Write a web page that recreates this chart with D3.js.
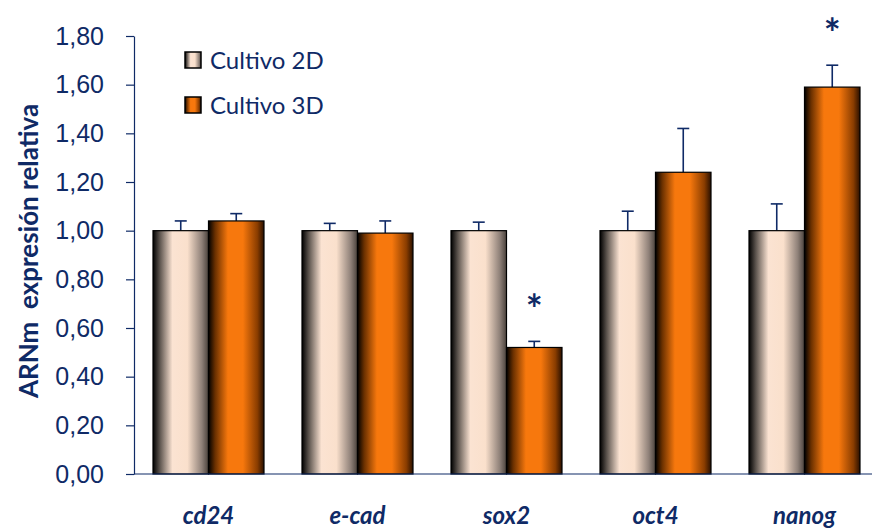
<!DOCTYPE html>
<html>
<head>
<meta charset="utf-8">
<script src="https://cdn.jsdelivr.net/npm/d3@7"></script>
<style>
  body { margin: 0; background: #fff; }
  svg { display: block; font-family: Lato, "Open Sans", sans-serif; }
</style>
</head>
<body>
<svg width="872" height="528"></svg>
<script>
"use strict"

// datos
const genes = ["cd24", "e-cad", "sox2", "oct4", "nanog"]
const series = ["Cultivo 2D", "Cultivo 3D"]
const values2D = [1.00, 1.00, 1.00, 1.00, 1.00]
const values3D = [1.04, 0.99, 0.52, 1.24, 1.59]
const err2D = [0.04, 0.03, 0.035, 0.08, 0.11]
const err3D = [0.03, 0.05, 0.025, 0.18, 0.09]
const signif = ["", "", "*", "", "*"]
const yTicks = [0, 0.2, 0.4, 0.6, 0.8, 1.0, 1.2, 1.4, 1.6, 1.8]

const navy = "#0f2a66"
const svg = d3.select("svg")

const area = { left: 134, right: 879, top: 36, bottom: 474 }

// gradientes tipo cilindro
const defs = svg.append("defs")
function addGrad(id, stops) {
    const g = defs.append("linearGradient").attr("id", id)
        .attr("x1", "0%").attr("x2", "100%").attr("y1", "0%").attr("y2", "0%")
    stops.forEach(s => g.append("stop").attr("offset", s[0]).attr("stop-color", s[1]))
}
addGrad("g2d", [["0%", "#000000"], ["12%", "#5a524c"], ["35%", "#fbe3d2"], ["62%", "#fae0cc"], ["88%", "#8e8078"], ["100%", "#4a423c"]])
addGrad("g3d", [["0%", "#000000"], ["12%", "#6a3000"], ["35%", "#f7780d"], ["62%", "#f7780d"], ["88%", "#8a3d00"], ["100%", "#2a1000"]])
const fills = ["url(#g2d)", "url(#g3d)"]

const scX = d3.scaleBand()
    .domain(genes)
    .range([area.left, area.right])
    .paddingInner(0.255)
    .paddingOuter(0.1275)

const scSub = d3.scaleBand()
    .domain(series)
    .range([0, scX.bandwidth()])

const scY = d3.scaleLinear()
    .domain([0, 1.8])
    .range([area.bottom, area.top])

// eje Y
const axisY = d3.axisLeft(scY)
    .tickValues(yTicks)
    .tickFormat(d => d3.format(".2f")(d).replace(".", ","))
    .tickSize(8)
    .tickSizeOuter(0)
const gY = svg.append("g")
    .attr("transform", `translate(${area.left},0)`)
    .call(axisY)
gY.select(".domain").attr("stroke", navy).attr("stroke-width", 1.2)
gY.selectAll(".tick line").attr("stroke", navy).attr("stroke-width", 1.2)
gY.selectAll(".tick text")
    .attr("x", -30)
    .style("font-size", "25px")
    .style("text-anchor", "end")
    .attr("fill", navy)

// titulo eje Y
svg.append("text")
    .attr("transform", `translate(38, 251) rotate(-90)`)
    .style("text-anchor", "middle")
    .style("font-size", "26px")
    .style("font-weight", "bold")
    .attr("fill", navy)
    .attr("xml:space", "preserve")
    .text("ARNm  expresión relativa")

// barras
const rows = []
genes.forEach((g, i) => {
    rows.push({ gene: g, s: 0, v: values2D[i], e: err2D[i] })
    rows.push({ gene: g, s: 1, v: values3D[i], e: err3D[i] })
})

// barras de error (solo hacia arriba)
const errG = svg.append("g")
rows.forEach(d => {
    const cx = scX(d.gene) + scSub(series[d.s]) + scSub.bandwidth() / 2
    errG.append("line")
        .attr("x1", cx).attr("x2", cx)
        .attr("y1", scY(d.v)).attr("y2", scY(d.v + d.e))
        .attr("stroke", navy).attr("stroke-width", 1.6)
    errG.append("line")
        .attr("x1", cx - 6).attr("x2", cx + 6)
        .attr("y1", scY(d.v + d.e)).attr("y2", scY(d.v + d.e))
        .attr("stroke", navy).attr("stroke-width", 1.6)
})

svg.append("g").selectAll("rect")
    .data(rows)
    .enter()
    .append("rect")
    .attr("x", d => scX(d.gene) + scSub(series[d.s]))
    .attr("y", d => scY(d.v))
    .attr("width", scSub.bandwidth())
    .attr("height", d => scY(0) - scY(d.v))
    .attr("fill", d => fills[d.s])
    .attr("stroke", "#000")
    .attr("stroke-width", 1.2)

// eje X
svg.append("line")
    .attr("x1", area.left).attr("x2", 872)
    .attr("y1", scY(0)).attr("y2", scY(0))
    .attr("stroke", navy).attr("stroke-width", 1.2)

svg.append("g").selectAll("text")
    .data(genes)
    .enter()
    .append("text")
    .attr("x", d => scX(d) + scX.bandwidth() / 2)
    .attr("y", 524)
    .style("text-anchor", "middle")
    .style("font-size", "24px")
    .style("font-weight", "bold")
    .style("font-style", "italic")
    .attr("fill", navy)
    .text(d => d)

// asteriscos
svg.append("g").selectAll("text")
    .data(genes.map((g, i) => ({ g, t: signif[i], top: values3D[i] + err3D[i] })).filter(d => d.t))
    .enter()
    .append("text")
    .attr("x", d => scX(d.g) + scSub(series[1]) + scSub.bandwidth() / 2)
    .attr("y", d => scY(d.top) - 17)
    .style("text-anchor", "middle")
    .style("font-size", "40px")
    .style("font-weight", "bold")
    .attr("fill", navy)
    .text(d => d.t)

// leyenda
const legend = svg.append("g").attr("transform", "translate(185, 52)")
const items = legend.selectAll("g")
    .data(series)
    .enter()
    .append("g")
    .attr("transform", (d, i) => `translate(0, ${i * 45})`)
items.append("rect")
    .attr("width", 16).attr("height", 16)
    .attr("fill", (d, i) => fills[i])
    .attr("stroke", "#000").attr("stroke-width", 1.5)
items.append("text")
    .attr("x", 25).attr("y", 17)
    .style("font-size", "24px")
    .attr("fill", navy)
    .text(d => d)
</script>
</body>
</html>
